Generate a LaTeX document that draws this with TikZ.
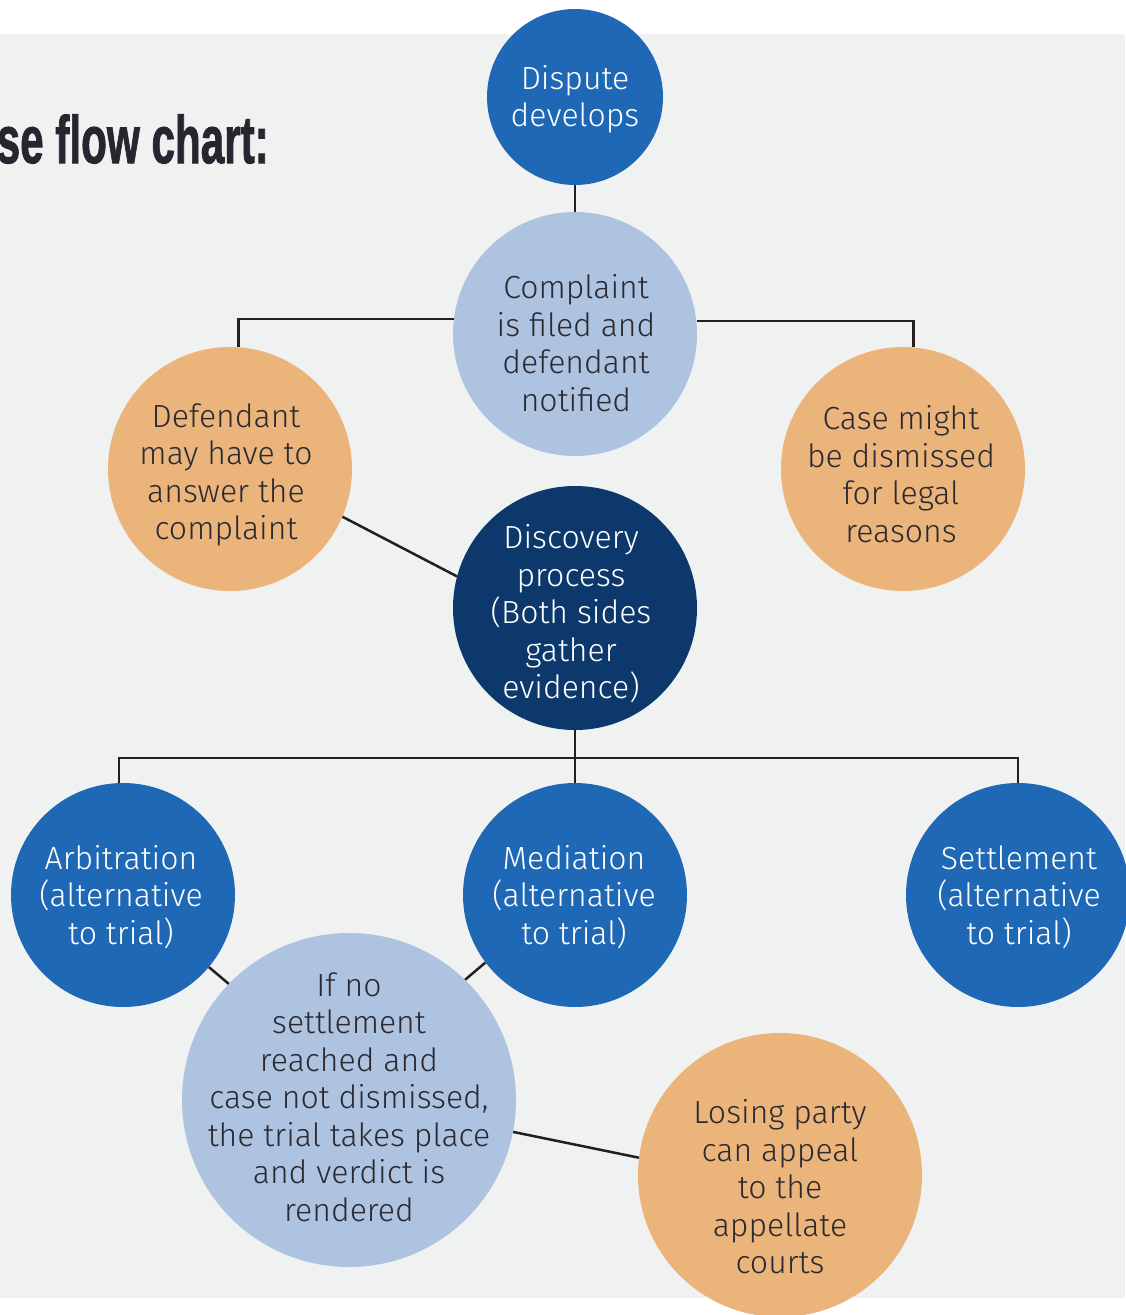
\documentclass[tikz,border=0pt]{standalone}
\usepackage{fontspec}
\setmainfont{Fira Sans}[UprightFont=* Light]
\newfontfamily\titlefont{Liberation Sans}[FakeBold=1.6]
\usepackage{graphicx}
\definecolor{panel}{HTML}{F0F1F1}
\definecolor{midblue}{HTML}{1E68B6}
\definecolor{lightblue}{HTML}{AEC3DF}
\definecolor{orange}{HTML}{EBB47A}
\definecolor{navy}{HTML}{0C386B}
\definecolor{txtdark}{HTML}{2B2A33}
\definecolor{linec}{HTML}{231F20}
\definecolor{titlec}{HTML}{27252F}
\begin{document}
\begin{tikzpicture}[x=1pt,y=-1pt,
  circ/.style={circle, inner sep=0pt, minimum size=#1, draw=none},
  lbl/.style={align=center, inner sep=0pt, font=\fontsize{32}{37.5}\selectfont},
  conn/.style={draw=linec, line width=2.5pt}]
\useasboundingbox (0,0) rectangle (1125,1315);
\fill[white] (0,0) rectangle (1125,1315);
\fill[panel] (0,34) rectangle (1125,1298);

% title
\node[anchor=base east, inner sep=0pt, text=titlec,
      font=\titlefont\bfseries\fontsize{67}{70}\selectfont] (title) at (269,163)
  {\scalebox{0.63}[1]{se flow chart:}};

% circles
\node[circ=176, fill=midblue]   (dispute)   at (575,97)   {};
\node[circ=244, fill=lightblue] (complaint) at (575,334)  {};
\node[circ=244, fill=orange]    (defendant) at (230,469)  {};
\node[circ=244, fill=orange]    (case)      at (903,469)  {};
\node[circ=244, fill=navy]      (discovery) at (575,608)  {};
\node[circ=224, fill=midblue]   (arb)       at (123,895)  {};
\node[circ=224, fill=midblue]   (med)       at (575,895)  {};
\node[circ=224, fill=midblue]   (settle)    at (1018,895) {};
\node[circ=334, fill=lightblue] (trial)     at (349,1100) {};
\node[circ=284, fill=orange]    (appeal)    at (780,1175) {};

% labels
\node[lbl, text=white]   (disputeT)   at (575,99)   {Dispute\\develops};
\node[lbl, text=txtdark] (complaintT) at (576,343)  {Complaint\\is filed and\\defendant\\notified};
\node[lbl, text=txtdark] (defendantT) at (226,475)  {Defendant\\may have to\\answer the\\complaint};
\node[lbl, text=txtdark] (caseT)      at (901,474)  {Case might\\be dismissed\\for legal\\reasons};
\node[lbl, text=white]   (discoveryT) at (571,614)  {Discovery\\process\\(Both sides\\gather\\evidence)};
\node[lbl, text=white]   (arbT)       at (121,897)  {Arbitration\\(alternative\\to trial)};
\node[lbl, text=white]   (medT)       at (574,897)  {Mediation\\(alternative\\to trial)};
\node[lbl, text=white]   (settleT)    at (1019,897) {Settlement\\(alternative\\to trial)};
\node[lbl, text=txtdark] (trialT)     at (349,1097) {If no\\settlement\\reached and\\case not dismissed,\\the trial takes place\\and verdict is\\rendered};
\node[lbl, text=txtdark] (appealT)    at (780,1187) {Losing party\\can appeal\\to the\\appellate\\courts};

% connectors
\coordinate (bus) at (575,758);
\draw[conn] (dispute.south) -- (complaint.north);
\draw[conn] (complaint.173.9) -| (defendant.86.7);
\draw[conn] (complaint.6.1) -| (case.85.3);
\draw[conn] (defendant.-23.6) -- (discovery.165.8);
\draw[conn] (discovery.south) -- (bus);
\draw[conn] (arb.92.6) |- (bus) -| (settle.north);
\draw[conn] (bus) -- (med.north);
\draw[conn] (arb.-40.7) -- (trial.136.2);
\draw[conn] (med.-143) -- (trial.46);
\draw[conn] (trial.-11.3) -- (appeal.173);
\end{tikzpicture}
\end{document}
